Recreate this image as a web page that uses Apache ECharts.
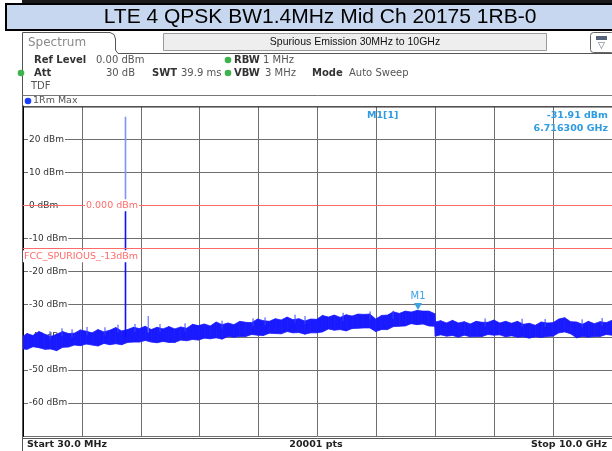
<!DOCTYPE html>
<html>
<head>
<meta charset="utf-8">
<script src="https://cdn.jsdelivr.net/npm/echarts@6/dist/echarts.min.js"></script>
<style>
  html, body { margin: 0; padding: 0; background: #fff; }
  #chart { width: 612px; height: 451px; }
</style>
</head>
<body>
<div id="chart"></div>
<script>
// sweep settings
const startMHz = 30;
const stopMHz = 10000;
const refLevel = 0;
const fccLimit = -13;

// trace (max hold): upper / lower edge of the noise band
const freqMHz = [30, 100, 200, 300, 400, 500, 600, 700, 800, 900,
  1000, 1100, 1200, 1300, 1400, 1500, 1600, 1700, 1800, 1900,
  2000, 2100, 2200, 2300, 2400, 2500, 2600, 2700, 2800, 2900,
  3000, 3100, 3200, 3300, 3400, 3500, 3600, 3700, 3800, 3900,
  4000, 4100, 4200, 4300, 4400, 4500, 4600, 4700, 4800, 4900,
  5000, 5100, 5200, 5300, 5400, 5500, 5600, 5700, 5800, 5900,
  6000, 6100, 6200, 6300, 6400, 6500, 6600, 6700, 6800, 6900,
  7000, 7010, 7100, 7200, 7300, 7400, 7500, 7600, 7700, 7800,
  7900, 8000, 8100, 8200, 8300, 8400, 8500, 8600, 8700, 8800,
  8900, 9000, 9100, 9200, 9300, 9400, 9500, 9600, 9700, 9800,
  9900, 10000];
const traceUpper = [-39.7, -38.9, -39.5, -38.3, -39.1, -39.8, -39.1, -38.3, -38.9, -38.8,
  -37.8, -38.2, -38.7, -37.7, -38.4, -37.9, -37.1, -38.1, -37.7, -37.0,
  -37.4, -36.7, -37.7, -37.0, -37.5, -36.8, -37.5, -36.9, -37.3, -36.1,
  -36.5, -36.0, -36.6, -35.4, -36.2, -35.7, -36.2, -35.2, -35.5, -35.6,
  -34.5, -35.0, -35.2, -34.4, -34.8, -33.9, -34.7, -34.4, -35.1, -34.5,
  -34.6, -33.4, -33.9, -33.3, -34.0, -33.2, -33.6, -33.0, -33.1, -33.0,
  -34.5, -33.4, -33.3, -32.3, -32.8, -32.1, -32.4, -31.9, -32.1, -32.1,
  -32.9, -35.4, -35.0, -35.7, -34.9, -35.7, -35.3, -36.0, -35.2, -35.5,
  -35.5, -34.8, -35.7, -35.2, -35.8, -35.2, -36.1, -35.8, -36.4, -35.4,
  -35.7, -35.6, -34.5, -34.1, -35.3, -35.4, -36.1, -35.2, -35.9, -35.3,
  -35.6, -34.9];
const traceLower = [-43.6, -43.7, -42.9, -43.2, -43.7, -43.6, -44.1, -43.1, -43.0, -42.4,
  -42.6, -42.1, -42.4, -42.7, -41.9, -42.3, -42.0, -42.3, -41.6, -41.5,
  -41.5, -41.0, -41.5, -41.7, -41.3, -41.6, -41.6, -40.9, -41.1, -40.7,
  -40.9, -40.3, -40.5, -40.2, -40.6, -39.8, -40.0, -39.8, -39.8, -39.2,
  -39.4, -39.5, -38.8, -38.9, -39.0, -38.3, -38.7, -38.6, -39.1, -38.7,
  -38.7, -38.4, -37.5, -37.9, -37.7, -38.1, -37.4, -37.3, -37.2, -37.2,
  -38.3, -37.7, -37.7, -36.8, -36.7, -36.6, -35.9, -36.2, -36.0, -36.6,
  -36.7, -39.7, -39.3, -39.7, -39.5, -40.0, -39.4, -39.9, -39.8, -39.8,
  -39.2, -39.4, -39.3, -39.9, -39.6, -40.0, -39.9, -40.3, -39.9, -40.1,
  -39.8, -39.7, -38.7, -38.4, -39.0, -40.2, -39.8, -40.0, -39.8, -39.8,
  -39.2, -39.4];

// thin noise peaks sticking out of the band: [freq MHz, top dBm]
const noisePeaks = [[487, -38.2], [690, -37.3], [860, -37.6], [1114, -36.9], [1418, -37.0],
  [1638, -36.2], [1926, -36.0], [2349, -36.0], [2773, -35.8], [3399, -35.0],
  [3924, -34.3], [4127, -34.0], [4635, -33.2], [4804, -33.6], [5448, -32.6],
  [5905, -32.2], [6294, -32.0], [7852, -34.3], [8478, -34.4], [8868, -34.5],
  [9494, -34.6], [9833, -34.2]];

// carrier and a small spur: [freq MHz, floor dBm, peak dBm]
const carrierSpike = [1765, -40.0, 26.9];
const spurSpike = [2150, -38.6, -33.6];

// marker M1
const markerFreqMHz = 6716.3;
const markerLevel = -31.91;

const blue = '#1a1aff';
const red = '#ff6b6b';
const uiFont = '"DejaVu Sans"';

const chart = echarts.init(document.getElementById('chart'));

function txt(x, y, text, opt) {
  opt = opt || {};
  return {
    type: 'text', z: 100,
    style: {
      x: x, y: y, text: text,
      fill: opt.color || '#333',
      font: (opt.bold ? 'bold ' : '') + (opt.size || 10) + 'px ' + (opt.family || uiFont),
      align: opt.align || 'left',
      verticalAlign: 'middle',
      backgroundColor: opt.bg,
      padding: opt.pad
    }
  };
}
function dot(x, y, color) {
  return { type: 'circle', z: 100, shape: { cx: x, cy: y, r: 3.3 }, style: { fill: color } };
}
function hline(x1, x2, y, color, w) {
  return { type: 'line', z: 100, shape: { x1: x1, y1: y, x2: x2, y2: y }, style: { stroke: color, lineWidth: w || 1 } };
}

// band between upper and lower edge, one quad per step
const bandData = freqMHz.map(function (f, i) { return [f, traceUpper[i], traceLower[i]]; });
function renderBand(params, api) {
  const i = params.dataIndex;
  if (i >= bandData.length - 1) return;
  const a = bandData[i], b = bandData[i + 1];
  const pts = [
    api.coord([a[0], a[1]]), api.coord([b[0], b[1]]),
    api.coord([b[0], b[2]]), api.coord([a[0], a[2]])
  ];
  return {
    type: 'polygon',
    shape: { points: pts },
    style: { fill: blue, stroke: blue, lineWidth: 0.8 }
  };
}
function renderPeak(params, api) {
  const top = api.coord([api.value(0), api.value(1)]);
  return {
    type: 'line',
    shape: { x1: top[0], y1: top[1], x2: top[0], y2: top[1] + 8 },
    style: { stroke: '#3446ff', lineWidth: 1 }
  };
}

const option = {
  animation: false,
  grid: { left: 23, top: 106.5, width: 589, height: 329.5 },
  xAxis: [
    {
      type: 'value', min: 0, max: 10, interval: 1,
      axisLabel: { show: false }, axisTick: { show: false },
      axisLine: { show: true, lineStyle: { color: '#222', width: 1 } },
      splitLine: { show: true, lineStyle: { color: '#6f6f6f', width: 1 } }
    },
    { type: 'value', min: startMHz, max: stopMHz, show: false }
  ],
  yAxis: [
    {
      type: 'value', min: -70, max: 30, interval: 10,
      axisLabel: { show: false }, axisTick: { show: false },
      axisLine: { show: true, lineStyle: { color: '#000', width: 2 } },
      splitLine: { show: true, lineStyle: { color: '#6f6f6f', width: 1 } }
    },
    {
      type: 'value', min: -70, max: 30, interval: 10, position: 'left', z: 1,
      axisLine: { show: false }, axisTick: { show: false }, splitLine: { show: false },
      axisLabel: {
        inside: true, margin: 5, showMinLabel: false, showMaxLabel: false,
        color: '#333', fontSize: 9, fontFamily: 'DejaVu Sans',
        backgroundColor: '#fff', padding: [0, 1],
        formatter: function (v) { return v + ' dBm'; }
      }
    }
  ],
  series: [
    {
      name: '1Rm Max', type: 'custom', xAxisIndex: 1,
      renderItem: renderBand, data: bandData, silent: true
    },
    {
      name: 'peaks', type: 'custom', xAxisIndex: 1,
      renderItem: renderPeak, data: noisePeaks, silent: true
    },
    {
      name: 'carrier low', type: 'line', xAxisIndex: 1, symbol: 'none',
      lineStyle: { color: '#1010ff', width: 1.6 },
      data: [[carrierSpike[0], carrierSpike[1]], [carrierSpike[0], refLevel]]
    },
    {
      name: 'carrier high', type: 'line', xAxisIndex: 1, symbol: 'none',
      lineStyle: { color: '#7d95f5', width: 1.6 },
      data: [[carrierSpike[0], refLevel], [carrierSpike[0], carrierSpike[2]]]
    },
    {
      name: 'spur', type: 'line', xAxisIndex: 1, symbol: 'none',
      lineStyle: { color: '#6a74ff', width: 1.2 },
      data: [[spurSpike[0], spurSpike[1]], [spurSpike[0], spurSpike[2]]],
      markLine: {
        silent: true, symbol: ['none', 'none'], label: { show: false },
        lineStyle: { color: red, width: 1, type: 'solid' },
        data: [{ yAxis: refLevel }, { yAxis: fccLimit }]
      },
      markPoint: {
        silent: true,
        data: [{ coord: [markerFreqMHz, markerLevel] }],
        symbol: 'triangle', symbolRotate: 180, symbolSize: [8, 7], symbolOffset: [0, -4],
        itemStyle: { color: '#3aa3e3' },
        label: {
          show: true, position: 'top', distance: 2, formatter: 'M1',
          color: '#3aa3e3', fontSize: 10, fontFamily: 'DejaVu Sans'
        }
      }
    }
  ]
};
chart.setOption(option);

const y0 = chart.convertToPixel({ yAxisIndex: 0 }, refLevel);
const yF = chart.convertToPixel({ yAxisIndex: 0 }, fccLimit);

const graphics = [
  // frame top and title
  { type: 'rect', z: 99, shape: { x: 22, y: 0, width: 590, height: 3 }, style: { fill: '#1a1a1a' } },
  { type: 'rect', z: 99, shape: { x: 6, y: 4, width: 640, height: 26 }, style: { fill: '#c6d7ef', stroke: '#000', lineWidth: 2 } },
  txt(320, 17.5, 'LTE 4 QPSK BW1.4MHz Mid Ch 20175 1RB-0', { size: 21, family: '"Liberation Sans", Arial', color: '#000', align: 'center' }),
  // tab and panel outline
  {
    type: 'polyline', z: 99,
    shape: { points: [[22.5, 451], [22.5, 32.5], [110, 32.5], [114, 34.5], [115.5, 39], [115.5, 50], [118, 53.5], [612, 53.5]] },
    style: { stroke: '#555', lineWidth: 1, fill: null }
  },
  txt(28, 43, 'Spectrum', { size: 12, color: '#8a8a8a' }),
  { type: 'rect', z: 99, shape: { x: 163.5, y: 33.5, width: 383, height: 17 }, style: { fill: '#eeeeee', stroke: '#9a9a9a', lineWidth: 1 } },
  txt(355, 42, 'Spurious Emission 30MHz to 10GHz', { size: 10.5, family: '"Liberation Sans", Arial', color: '#111', align: 'center' }),
  { type: 'rect', z: 99, shape: { x: 590.5, y: 32.5, width: 24, height: 20, r: 3 }, style: { fill: '#fff', stroke: '#666', lineWidth: 1 } },
  { type: 'rect', z: 100, shape: { x: 596, y: 36, width: 11, height: 4 }, style: { fill: '#55627a' } },
  txt(601.5, 46, '\u25BD', { size: 9, color: '#55627a', align: 'center' }),
  // settings
  txt(34, 60, 'Ref Level', { bold: true }),
  txt(96, 60, '0.00 dBm', { color: '#555' }),
  dot(228, 60, '#3cb44b'),
  txt(234, 60, 'RBW', { bold: true }),
  txt(263, 60, '1 MHz', { color: '#555' }),
  dot(21, 73, '#3cb44b'),
  txt(34, 73, 'Att', { bold: true }),
  txt(135, 73, '30 dB', { align: 'right', color: '#555' }),
  txt(152, 73, 'SWT', { bold: true }),
  txt(181, 73, '39.9 ms', { color: '#555' }),
  dot(228, 73, '#3cb44b'),
  txt(234, 73, 'VBW', { bold: true }),
  txt(265, 73, '3 MHz', { color: '#555' }),
  txt(312, 73, 'Mode', { bold: true }),
  txt(349, 73, 'Auto Sweep', { color: '#555' }),
  txt(31, 86, 'TDF', { color: '#555' }),
  // trace row
  hline(22.5, 612, 95.5, '#777'),
  hline(22.5, 612, 107, '#333'),
  dot(28, 101, '#1a3cff'),
  txt(33, 101, '1Rm Max', { size: 9.5, color: '#555' }),
  // marker readout
  txt(367, 116, 'M1[1]', { color: '#2f9be0', bold: true, size: 9.5 }),
  txt(608, 116, markerLevel.toFixed(2) + ' dBm', { color: '#2f9be0', bold: true, size: 9.5, align: 'right' }),
  txt(608, 129, (markerFreqMHz / 1000).toFixed(6) + ' GHz', { color: '#2f9be0', bold: true, size: 9.5, align: 'right' }),
  // limit line labels
  txt(85, y0, refLevel.toFixed(3) + ' dBm', { color: red, size: 9.5, bg: '#fff', pad: [1, 1] }),
  txt(23, yF + 8, 'FCC_SPURIOUS_' + fccLimit + 'dBm', { color: red, size: 9.5, bg: '#fff', pad: [1, 1] }),
  // footer
  hline(22.5, 612, 438.5, '#555'),
  txt(27, 445, 'Start ' + startMHz.toFixed(1) + ' MHz', { bold: true, size: 9.5, color: '#222' }),
  txt(316, 445, '20001 pts', { bold: true, size: 9.5, color: '#222', align: 'center' }),
  txt(607, 445, 'Stop ' + (stopMHz / 1000).toFixed(1) + ' GHz', { bold: true, size: 9.5, color: '#222', align: 'right' })
];
chart.setOption({ graphic: graphics });
</script>
</body>
</html>
